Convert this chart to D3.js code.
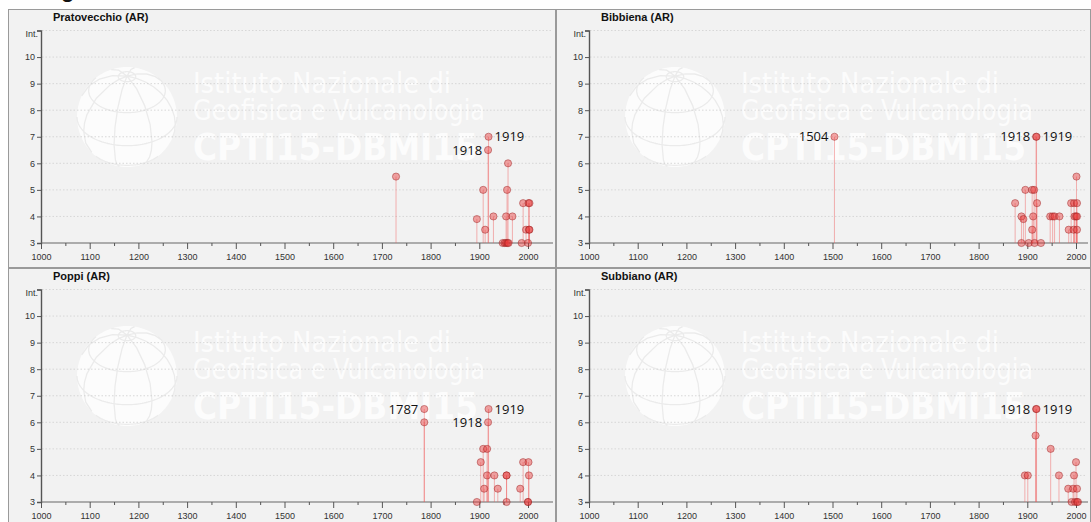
<!DOCTYPE html>
<html>
<head>
<meta charset="utf-8">
<script src="https://cdn.jsdelivr.net/npm/d3@7.9.0/dist/d3.min.js"></script>
<style>
  html, body { margin: 0; padding: 0; background: #fff; overflow: hidden; }
  svg { display: block; }
  .tick text { font-family: "Liberation Sans", Arial, sans-serif; font-size: 9px; fill: #333; }
</style>
</head>
<body>
<svg id="chart" width="1091" height="522"></svg>
<script>
// Data: year and intensity of each event, per locality
const panelTitles = ['Pratovecchio (AR)', 'Bibbiena (AR)', 'Poppi (AR)', 'Subbiano (AR)'];

const pratovecchioYears = [1729, 1895, 1908, 1912, 1918, 1919, 1929, 1948, 1952, 1955, 1955, 1957, 1958, 1959, 1960, 1968, 1987, 1990, 1996, 2000, 2001, 2002, 2003, 2003];
const pratovecchioInt   = [5.5, 3.9, 5, 3.5, 6.5, 7, 4, 3, 3, 3, 4, 5, 3, 6, 3, 4, 3, 4.5, 3.5, 3, 4.5, 3.5, 4.5, 3.5];

const bibbienaYears = [1504, 1875, 1888, 1888, 1892, 1896, 1903, 1910, 1910, 1912, 1914, 1915, 1918, 1919, 1920, 1928, 1947, 1952, 1956, 1966, 1985, 1990, 1995, 1996, 1997, 2000, 2001, 2002, 2002, 2002];
const bibbienaInt   = [7, 4.5, 3, 4, 3.9, 5, 3, 5, 3.5, 4, 5, 3, 7, 7, 4.5, 3, 4, 4, 4, 4, 3.5, 4.5, 3.5, 4.5, 4, 4, 5.5, 4.5, 4, 3.5];

const poppiYears = [1787, 1787, 1895, 1903, 1908, 1910, 1916, 1916, 1918, 1919, 1931, 1938, 1956, 1956, 1956, 1984, 1990, 2000, 2000, 2001, 2002];
const poppiInt   = [6.5, 6, 3, 4.5, 5, 3.5, 5, 4, 6, 6.5, 4, 3.5, 4, 4, 3, 3.5, 4.5, 3, 3, 4.5, 4];

const subbianoYears = [1895, 1901, 1917, 1918, 1919, 1948, 1965, 1984, 1991, 1994, 1996, 1998, 2000, 2002, 2002, 2004];
const subbianoInt   = [4, 4, 5.5, 6.5, 6.5, 5, 4, 3.5, 3, 3.5, 4, 3, 4.5, 3.5, 3, 3];

// annotated events: [year, intensity, label side]
const pratovecchioLabels = [[1918, 6.5, 'left'], [1919, 7, 'right']];
const bibbienaLabels = [[1504, 7, 'left'], [1918, 7, 'left'], [1919, 7, 'right']];
const poppiLabels = [[1787, 6.5, 'left'], [1918, 6, 'left'], [1919, 6.5, 'right']];
const subbianoLabels = [[1918, 6.5, 'left'], [1919, 6.5, 'right']];

const xTicks = d3.range(1000, 2001, 100);
const xMinorTicks = d3.range(1050, 2000, 100);
const yTicks = d3.range(3, 12);

const series = [
  { years: pratovecchioYears, ints: pratovecchioInt, labels: pratovecchioLabels },
  { years: bibbienaYears, ints: bibbienaInt, labels: bibbienaLabels },
  { years: poppiYears, ints: poppiInt, labels: poppiLabels },
  { years: subbianoYears, ints: subbianoInt, labels: subbianoLabels }
];

// Layout
const panels = [
  { x: 8, y: 9, w: 548, h: 259 },
  { x: 556, y: 9, w: 535, h: 259 },
  { x: 8, y: 268, w: 548, h: 259 },
  { x: 556, y: 268, w: 535, h: 259 }
];

const svg = d3.select('#chart');

// cropped bits of surrounding page
svg.append('text').attr('x', 61).attr('y', -3)
  .style('font-family', 'Liberation Sans, Arial, sans-serif').style('font-size', '22px')
  .style('font-weight', 'bold').attr('fill', '#111').text('g');
svg.append('text').attr('x', -9).attr('y', 386)
  .style('font-family', 'Liberation Sans, Arial, sans-serif').style('font-size', '26px')
  .style('font-weight', 'bold').attr('fill', '#111').text(')');

panels.forEach((p, i) => {
  const s = series[i];
  const clipId = 'clip' + i;
  svg.append('clipPath').attr('id', clipId)
    .append('rect').attr('x', 0).attr('y', 0).attr('width', p.w).attr('height', p.h);

  const g = svg.append('g')
    .attr('transform', `translate(${p.x},${p.y})`);
  const inner = g.append('g').attr('clip-path', `url(#${clipId})`);

  inner.append('rect')
    .attr('width', p.w).attr('height', p.h)
    .attr('fill', '#f2f2f2');

  // watermark: globe + institute name
  const proj = d3.geoOrthographic().scale(50).translate([119, 108]).rotate([-15, -35, 0]);
  const geo = d3.geoPath(proj);
  inner.append('path').datum({ type: 'Sphere' }).attr('d', geo)
    .attr('fill', '#fff').attr('fill-opacity', 0.75);
  inner.append('path').datum(d3.geoGraticule().step([45, 40])()).attr('d', geo)
    .attr('fill', 'none').attr('stroke', '#ebebeb').attr('stroke-width', 1.3);

  const wm = inner.append('g').attr('fill', '#fff').attr('fill-opacity', 0.8)
    .style('font-family', '"DejaVu Sans Condensed", "DejaVu Sans", sans-serif');
  wm.append('text').attr('x', 185).attr('y', 84).attr('textLength', 258)
    .attr('lengthAdjust', 'spacingAndGlyphs').style('font-size', '29px').text('Istituto Nazionale di');
  wm.append('text').attr('x', 185).attr('y', 111).attr('textLength', 292)
    .attr('lengthAdjust', 'spacingAndGlyphs').style('font-size', '29px').text('Geofisica e Vulcanologia');
  wm.append('text').attr('x', 185).attr('y', 151).attr('textLength', 285)
    .attr('lengthAdjust', 'spacingAndGlyphs').style('font-size', '38px').style('font-weight', 'bold')
    .text('CPTI15-DBMI15');

  // scales
  const x = d3.scaleLinear().domain([1000, 2000]).range([33, 520]);
  const y = d3.scaleLinear().domain([3, 11]).range([234, 21.5]);

  // dotted grid
  inner.append('g').selectAll('line').data(yTicks.slice(1)).join('line')
    .attr('x1', x(1000) + 1).attr('x2', p.w - 4)
    .attr('y1', d => y(d)).attr('y2', d => y(d))
    .attr('stroke', '#cfcfcf').attr('stroke-width', 0.8).attr('stroke-dasharray', '1.5,2');

  // title
  g.append('text').attr('x', 45).attr('y', 12)
    .style('font-family', '"Liberation Sans", Arial, sans-serif').style('font-size', '11px')
    .style('font-weight', 'bold').attr('fill', '#111').text(panelTitles[i]);

  // y axis
  const yAxis = g.append('g').attr('transform', `translate(${x(1000)},0)`)
    .call(d3.axisLeft(y).tickValues(yTicks).tickSize(4).tickPadding(2)
      .tickFormat(d => d === 11 ? 'Int.' : d));
  yAxis.select('.domain').attr('stroke', '#555').attr('stroke-width', 1.4);
  yAxis.selectAll('.tick line').attr('stroke', '#555');
  yAxis.selectAll('.tick text').filter(d => d === 11).attr('dy', '0.7em').attr('x', -3);

  // x axis
  const base = y(3);
  g.append('line').attr('x1', x(1000)).attr('x2', p.w - 3)
    .attr('y1', base).attr('y2', base).attr('stroke', '#666').attr('stroke-width', 1.2);
  const xAxis = g.append('g').attr('transform', `translate(0,${base})`)
    .call(d3.axisBottom(x).tickValues(xTicks).tickSize(6).tickPadding(5).tickFormat(d3.format('d')));
  xAxis.select('.domain').remove();
  xAxis.selectAll('.tick line').attr('stroke', '#555');
  const xMinor = g.append('g').attr('transform', `translate(0,${base})`)
    .call(d3.axisBottom(x).tickValues(xMinorTicks).tickSize(3).tickFormat(''));
  xMinor.select('.domain').remove();
  xMinor.selectAll('.tick line').attr('stroke', '#555');

  // events: stems then markers
  const pts = s.years.map((yr, k) => ({ year: yr, v: s.ints[k] }));
  g.append('g').selectAll('line').data(pts).join('line')
    .attr('x1', d => x(d.year)).attr('x2', d => x(d.year))
    .attr('y1', base).attr('y2', d => y(d.v))
    .attr('stroke', 'rgb(240,90,90)').attr('stroke-opacity', 0.45).attr('stroke-width', 1);
  g.append('g').selectAll('circle').data(pts).join('circle')
    .attr('cx', d => x(d.year)).attr('cy', d => y(d.v)).attr('r', 3.6)
    .attr('fill', 'rgb(232,55,55)').attr('fill-opacity', 0.45)
    .attr('stroke', 'rgb(150,30,30)').attr('stroke-opacity', 0.5).attr('stroke-width', 0.9);

  // annotations
  g.append('g').selectAll('text').data(s.labels).join('text')
    .attr('x', d => d[2] === 'left' ? x(d[0]) - 6 : x(d[0]) + 6)
    .attr('y', d => y(d[1]))
    .attr('dy', '0.35em')
    .attr('text-anchor', d => d[2] === 'left' ? 'end' : 'start')
    .style('font-family', '"Open Sans", "DejaVu Sans", sans-serif').style('font-size', '13px')
    .attr('fill', '#111').text(d => d[0]);

  // panel border
  g.append('rect').attr('x', 0.5).attr('y', 0.5).attr('width', p.w - 1).attr('height', p.h - 1)
    .attr('fill', 'none').attr('stroke', '#9a9a9a').attr('stroke-width', 1);
});
</script>
</body>
</html>
